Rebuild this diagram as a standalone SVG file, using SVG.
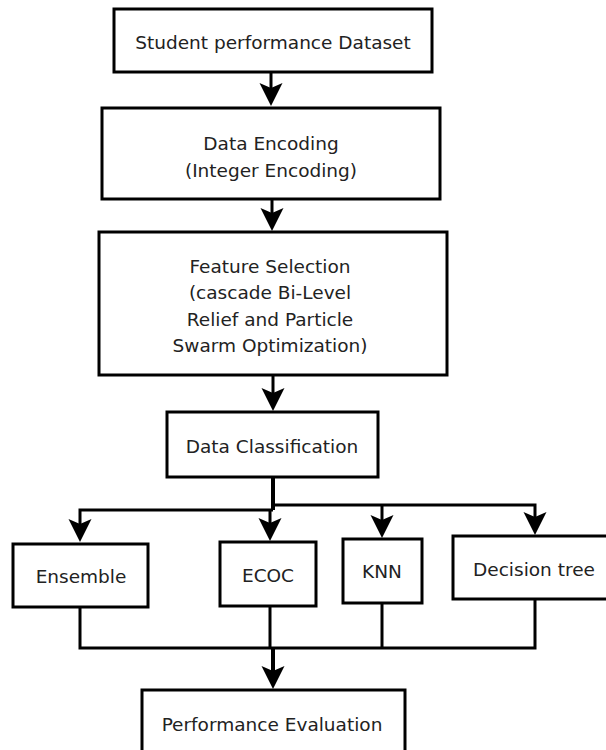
<svg xmlns="http://www.w3.org/2000/svg" width="606" height="750" viewBox="0 0 606 750">
<style>
.box{fill:#fff;stroke:#000;stroke-width:3}
.t{font-family:"DejaVu Sans",Verdana,sans-serif;font-size:18.5px;fill:#222;text-anchor:middle}
.c{fill:none;stroke:#000;stroke-width:3}
.trunk{fill:none;stroke:#000;stroke-width:4}
</style>
<defs>
<marker id="ah" markerUnits="userSpaceOnUse" markerWidth="26" markerHeight="26" viewBox="-14 -13 26 26" refX="0" refY="0" orient="auto">
<path d="M10,0 L-13,-11.5 L-8,0 L-13,11.5 Z" fill="#000"/>
</marker>
</defs>
<rect width="606" height="750" fill="#fff"/>
<g id="connectors">
<path class="c" d="M271,73 V96" marker-end="url(#ah)"/>
<path class="c" d="M272,199 V221" marker-end="url(#ah)"/>
<path class="c" d="M273,375 V401" marker-end="url(#ah)"/>
<path class="trunk" d="M273,477 V510"/>
<path class="c" d="M273,510 H80 V532" marker-end="url(#ah)"/>
<path class="c" d="M270,510 V531" marker-end="url(#ah)"/>
<path class="c" d="M273,505 H535 V525" marker-end="url(#ah)"/>
<path class="c" d="M382,505 V528" marker-end="url(#ah)"/>
<path class="c" d="M80,607 V648 H535 V599"/>
<path class="c" d="M382,603 V648"/>
<path class="c" d="M270,606 V648"/>
<path class="trunk" d="M273,648 V679" marker-end="url(#ah)"/>
</g>
<g id="dataset">
<rect class="box" x="114" y="9" width="318" height="63"/>
<text class="t" x="273" y="49">Student performance Dataset</text>
</g>
<g id="encoding">
<rect class="box" x="102" y="108" width="338" height="91"/>
<text class="t" x="271" y="150">Data Encoding</text>
<text class="t" x="271" y="177">(Integer Encoding)</text>
</g>
<g id="feature">
<rect class="box" x="99" y="232" width="348" height="143"/>
<text class="t" x="270" y="273">Feature Selection</text>
<text class="t" x="270" y="299">(cascade Bi-Level</text>
<text class="t" x="270" y="326">Relief and Particle</text>
<text class="t" x="270" y="352">Swarm Optimization)</text>
</g>
<g id="classification">
<rect class="box" x="167" y="412" width="211" height="65"/>
<text class="t" x="272" y="453">Data Classification</text>
</g>
<g id="ensemble">
<rect class="box" x="13" y="544" width="135" height="63"/>
<text class="t" x="81" y="583">Ensemble</text>
</g>
<g id="ecoc">
<rect class="box" x="220" y="542" width="96" height="64"/>
<text class="t" x="268" y="582">ECOC</text>
</g>
<g id="knn">
<rect class="box" x="343" y="539" width="79" height="64"/>
<text class="t" x="382" y="578">KNN</text>
</g>
<g id="dtree">
<rect class="box" x="453" y="536" width="160" height="63"/>
<text class="t" x="534" y="576">Decision tree</text>
</g>
<g id="evaluation">
<rect class="box" x="142" y="690" width="263" height="70"/>
<text class="t" x="272" y="731">Performance Evaluation</text>
</g>
</svg>
